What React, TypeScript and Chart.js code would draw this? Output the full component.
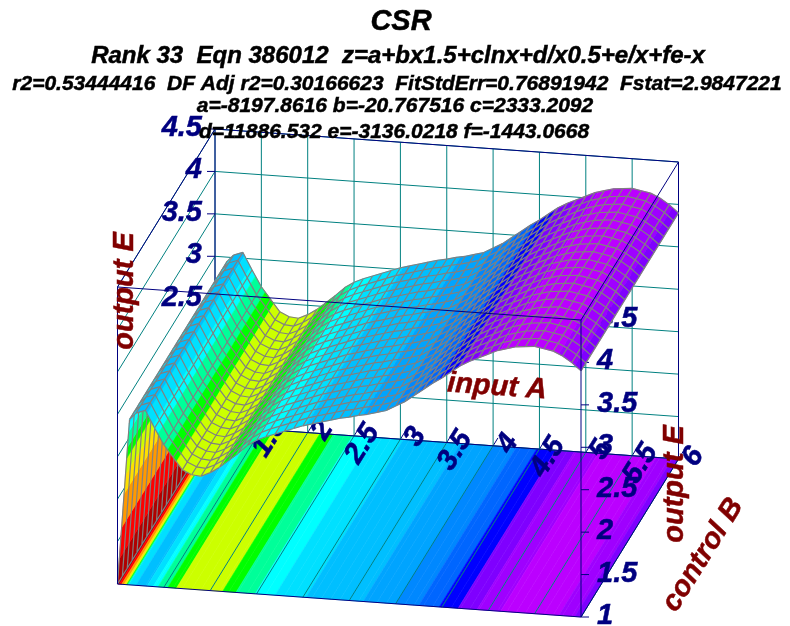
import React, { useEffect, useRef } from "react";
import { Chart, registerables } from "chart.js";

Chart.register(...registerables);

// ---- data ----
const inputA = [
  1.0, 1.13, 1.2, 1.3, 1.4, 1.5, 1.6, 1.7, 1.8, 1.9,
  2.0, 2.1, 2.2, 2.3, 2.4, 2.5, 2.6, 2.7, 2.8, 2.9,
  3.0, 3.1, 3.2, 3.3, 3.4, 3.5, 3.6, 3.7, 3.8, 3.9,
  4.0, 4.1, 4.2, 4.3, 4.4, 4.5, 4.6, 4.7, 4.8, 4.9,
  5.0, 5.1, 5.2, 5.3, 5.4, 5.5, 5.6, 5.7, 5.8, 5.9, 6.0,
];
const outputE = [
  1.0, 2.95, 3.03, 3.07, 2.87, 2.68, 2.54, 2.4, 2.35, 2.34,
  2.39, 2.46, 2.55, 2.64, 2.74, 2.81, 2.86, 2.9, 2.94, 2.98,
  3.02, 3.05, 3.08, 3.11, 3.14, 3.16, 3.19, 3.21, 3.24, 3.27,
  3.33, 3.39, 3.47, 3.55, 3.63, 3.7, 3.78, 3.86, 3.92, 3.97,
  4.02, 4.07, 4.1, 4.13, 4.14, 4.15, 4.13, 4.11, 4.06, 3.99, 3.9,
];
const controlBRows = [
  0, 0.05, 0.1, 0.15, 0.2, 0.25, 0.3, 0.35, 0.4, 0.45, 0.5,
  0.55, 0.6, 0.65, 0.7, 0.75, 0.8, 0.85, 0.9, 0.95, 1,
];
const xTicks = [1, 1.5, 2, 2.5, 3, 3.5, 4, 4.5, 5, 5.5, 6];
const zTicks = [1, 1.5, 2, 2.5, 3, 3.5, 4, 4.5];
const contourLevels = [
  1.3, 1.67, 2.07, 2.3, 2.49, 2.62, 2.8, 2.9, 3.03, 3.2, 3.33, 3.51, 3.68, 3.84, 3.96, 4.08,
];
const contourColors = [
  "#b00000", "#ff0000", "#ff9900", "#ffe000", "#ccff00", "#00ff00", "#00ff99", "#00ffff", "#00e0ff",
  "#00bfff", "#00a4ff", "#0088ff", "#0066ff", "#0000ff", "#7f00ff", "#9f00ff", "#bb00ff",
];
const titleLines = [
  "CSR",
  "Rank 33  Eqn 386012  z=a+bx1.5+clnx+d/x0.5+e/x+fe-x",
  "r2=0.53444416  DF Adj r2=0.30166623  FitStdErr=0.76891942  Fstat=2.9847221",
  "a=-8197.8616 b=-20.767516 c=2333.2092",
  "d=11886.532 e=-3136.0218 f=-1443.0668",
];

// ---- fixed oblique projection of the plot box ----
const X_MIN = 1, X_MAX = 6, Z_MIN = 1, Z_MAX = 4.5;
const project = (x: number, b: number, z: number) => ({
  x: 117.5 + ((x - X_MIN) / (X_MAX - X_MIN)) * 463.5 + b * 97.5,
  y: 584 + ((x - X_MIN) / (X_MAX - X_MIN)) * 33 - b * 158 - ((z - Z_MIN) / (Z_MAX - Z_MIN)) * 297,
});

const NAVY = "#000080";
const TEAL = "#008080";
const GRAY = "#808080";
const GAP = { x: NaN, y: NaN };

const colorFor = (z: number) => {
  let i = 0;
  while (i < contourLevels.length && z >= contourLevels[i]) i++;
  return contourColors[i];
};

const line = (pts: any[], color: string, width = 1) => ({
  data: pts,
  showLine: true,
  borderColor: color,
  borderWidth: width,
  pointRadius: 0,
  fill: false,
  tension: 0,
  spanGaps: false,
});
const poly = (pts: any[], color: string) => ({
  data: [...pts, pts[0]],
  showLine: true,
  borderColor: color,
  borderWidth: 0.6,
  backgroundColor: color,
  pointRadius: 0,
  fill: "shape",
  tension: 0,
});

// Split one column of the surface at the contour levels.
const splitColumn = (i: number) => {
  const [x0, x1, z0, z1] = [inputA[i], inputA[i + 1], outputE[i], outputE[i + 1]];
  const ts = contourLevels
    .filter((l) => (l - z0) * (l - z1) < 0)
    .map((l) => (l - z0) / (z1 - z0))
    .sort((a, b) => a - b);
  const stops = [0, ...ts, 1];
  const parts: { xa: number; xb: number; za: number; zb: number; color: string }[] = [];
  for (let k = 0; k < stops.length - 1; k++) {
    const za = z0 + (z1 - z0) * stops[k];
    const zb = z0 + (z1 - z0) * stops[k + 1];
    parts.push({
      xa: x0 + (x1 - x0) * stops[k],
      xb: x0 + (x1 - x0) * stops[k + 1],
      za,
      zb,
      color: colorFor((za + zb) / 2),
    });
  }
  return parts;
};

const buildLayers = () => {
  const under: any[] = [];
  const surface: any[] = [];
  for (let i = 0; i < inputA.length - 1; i++) {
    for (const p of splitColumn(i)) {
      under.push(
        poly(
          [
            project(p.xa, 0, Z_MIN),
            project(p.xb, 0, Z_MIN),
            project(p.xb, 1, Z_MIN),
            project(p.xa, 1, Z_MIN),
          ],
          p.color
        )
      );
      surface.push(
        poly(
          [project(p.xa, 0, p.za), project(p.xb, 0, p.zb), project(p.xb, 1, p.zb), project(p.xa, 1, p.za)],
          p.color
        )
      );
    }
    const mesh: any[] = [];
    for (const b of controlBRows) {
      mesh.push(project(inputA[i], b, outputE[i]), project(inputA[i + 1], b, outputE[i + 1]), GAP);
    }
    mesh.push(project(inputA[i], 0, outputE[i]), project(inputA[i], 1, outputE[i]), GAP);
    if (i === inputA.length - 2) mesh.push(project(inputA[i + 1], 0, outputE[i + 1]), project(inputA[i + 1], 1, outputE[i + 1]));
    surface.push(line(mesh, GRAY, 1.2));
  }
  // floor grid lines with a tick past the back edge
  for (const x of xTicks) {
    under.push(line([project(x, 0, Z_MIN), project(x, 1, Z_MIN)], TEAL));
    under.push(line([project(x, 1, Z_MIN), project(x, 1.05, Z_MIN)], NAVY));
  }
  // back wall and left wall
  for (const x of xTicks) under.push(line([project(x, 1, Z_MIN), project(x, 1, Z_MAX)], TEAL));
  for (const z of zTicks) {
    under.push(line([project(X_MIN, 1, z), project(X_MAX, 1, z)], TEAL));
    under.push(line([project(X_MIN, 0, z), project(X_MIN, 1, z)], TEAL));
    const b = project(X_MIN, 1, z);
    under.push(line([{ x: b.x - 8, y: b.y }, b], NAVY));
    const f = project(X_MAX, 0, z);
    under.push(line([f, { x: f.x + 8, y: f.y }], NAVY));
  }
  const box = (a: number[], c: number[], w = 1) =>
    line([project(a[0], a[1], a[2]), project(c[0], c[1], c[2])], NAVY, w);
  under.push(box([1, 1, 1], [1, 1, 4.5]));
  under.push(box([1, 1, 4.5], [6, 1, 4.5]));
  under.push(box([6, 1, 1], [6, 1, 4.5]));
  under.push(box([1, 0, 1], [1, 1, 1]));
  under.push(box([1, 1, 1], [6, 1, 1]));
  const over = [
    box([1, 0, 1], [6, 0, 1]),
    box([6, 0, 1], [6, 1, 1]),
    box([1, 0, 1], [1, 0, 4.5]),
    box([6, 0, 1], [6, 0, 4.5]),
    box([1, 0, 4.5], [6, 0, 4.5]),
    box([1, 0, 4.5], [1, 1, 4.5]),
    box([6, 0, 4.5], [6, 1, 4.5]),
  ];
  return { under, rest: [...surface, ...over] };
};

const text = (
  ctx: CanvasRenderingContext2D,
  s: string,
  x: number,
  y: number,
  size: number,
  color: string,
  align: CanvasTextAlign = "center",
  angle = 0
) => {
  ctx.save();
  ctx.translate(x, y);
  ctx.rotate((angle * Math.PI) / 180);
  ctx.font = `italic bold ${size}px "Liberation Sans", Arial, sans-serif`;
  ctx.fillStyle = color;
  ctx.strokeStyle = color;
  ctx.lineWidth = 0.5;
  ctx.textAlign = align;
  ctx.textBaseline = "middle";
  ctx.fillText(s, 0, 0);
  ctx.strokeText(s, 0, 0);
  ctx.restore();
};

export default function App() {
  const ref = useRef<HTMLCanvasElement>(null);
  useEffect(() => {
    document.body.style.background = "#ffffff";
    const { under, rest } = buildLayers();
    const all = [...under, ...rest];
    const labelLayer = under.length - 1;
    all.forEach((d, i) => (d.order = all.length - i));
    const plugin = {
      id: "csrText",
      afterDatasetDraw(chart: any, args: any) {
        if (args.index !== labelLayer) return;
        const ctx = chart.ctx;
        const sx = chart.scales.x;
        const sy = chart.scales.y;
        for (const z of zTicks) {
          const b = project(X_MIN, 1, z);
          text(ctx, String(z), sx.getPixelForValue(b.x) - 13, sy.getPixelForValue(b.y) - 1, 29, NAVY, "right");
          const f = project(X_MAX, 0, z);
          text(ctx, String(z), sx.getPixelForValue(f.x) + 16, sy.getPixelForValue(f.y) - 1, 29, NAVY, "left");
        }
        for (const x of xTicks) {
          const p = project(x, 1, Z_MIN);
          text(ctx, String(x), sx.getPixelForValue(p.x) + 19, sy.getPixelForValue(p.y) - 9, 29, NAVY, "right", -58);
        }
      },
      afterDatasetsDraw(chart: any) {
        const ctx = chart.ctx;
        text(ctx, "input A", 497, 387, 29, "#800000", "center", 4);
        text(ctx, "output E", 125, 291, 29, "#800000", "center", -90);
        text(ctx, "output E", 675, 484, 29, "#800000", "center", -90);
        text(ctx, "control B", 703, 555, 29, "#800000", "center", -58);
        text(ctx, titleLines[0], 401, 22, 29, "#000000");
        text(ctx, titleLines[1], 398, 56, 24, "#000000");
        text(ctx, titleLines[2], 397, 84, 21, "#000000");
        text(ctx, titleLines[3], 395, 106, 21, "#000000");
        text(ctx, titleLines[4], 394, 132, 21, "#000000");
      },
    };
    const chart = new Chart(ref.current!, {
      type: "scatter",
      data: { datasets: all },
      options: {
        animation: false,
        responsive: false,
        events: [],
        layout: { padding: 0 },
        plugins: { legend: { display: false }, tooltip: { enabled: false }, title: { display: false } },
        scales: {
          x: { type: "linear", min: 0, max: 790, display: false },
          y: { type: "linear", min: 0, max: 626, reverse: true, display: false },
        },
      },
      plugins: [plugin],
    } as any);
    return () => chart.destroy();
  }, []);
  return (
    <div style={{ position: "absolute", left: 0, top: 0, width: 790, height: 626 }}>
      <canvas ref={ref} width={790} height={626} style={{ display: "block" }} />
    </div>
  );
}
